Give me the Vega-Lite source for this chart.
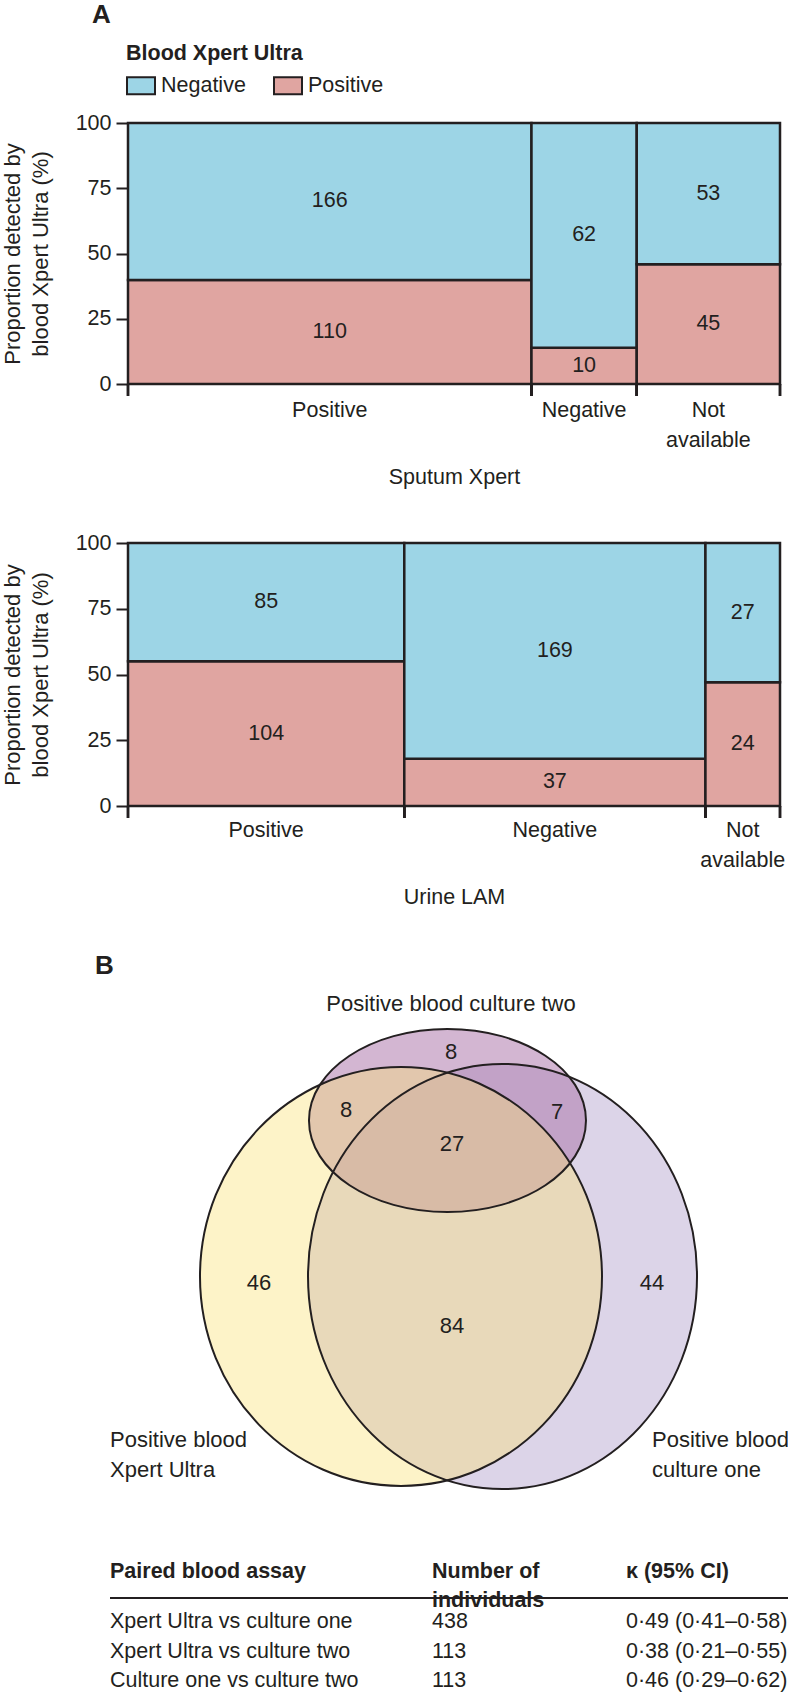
{
  "$schema": "https://vega.github.io/schema/vega-lite/v6.json",
  "padding": {"left": 0, "top": 2, "right": 0, "bottom": 0},
  "background": "white",
  "config": {
    "font": "Liberation Sans",
    "view": {"stroke": null},
    "text": {"color": "#231f20"}
  },
  "datasets": {
    "sputum": [
      {"cat": "Positive", "catOrder": 1, "blood": "Positive", "bloodOrder": 1, "n": 110},
      {"cat": "Positive", "catOrder": 1, "blood": "Negative", "bloodOrder": 2, "n": 166},
      {"cat": "Negative", "catOrder": 2, "blood": "Positive", "bloodOrder": 1, "n": 10},
      {"cat": "Negative", "catOrder": 2, "blood": "Negative", "bloodOrder": 2, "n": 62},
      {"cat": "Not available", "catOrder": 3, "blood": "Positive", "bloodOrder": 1, "n": 45},
      {"cat": "Not available", "catOrder": 3, "blood": "Negative", "bloodOrder": 2, "n": 53}
    ],
    "lam": [
      {"cat": "Positive", "catOrder": 1, "blood": "Positive", "bloodOrder": 1, "n": 104},
      {"cat": "Positive", "catOrder": 1, "blood": "Negative", "bloodOrder": 2, "n": 85},
      {"cat": "Negative", "catOrder": 2, "blood": "Positive", "bloodOrder": 1, "n": 37},
      {"cat": "Negative", "catOrder": 2, "blood": "Negative", "bloodOrder": 2, "n": 169},
      {"cat": "Not available", "catOrder": 3, "blood": "Positive", "bloodOrder": 1, "n": 24},
      {"cat": "Not available", "catOrder": 3, "blood": "Negative", "bloodOrder": 2, "n": 27}
    ],
    "venn": [
      {"set": "Xpert Ultra", "x": 41.87, "y": 43.07},
      {"set": "Culture one", "x": 57.44, "y": 43.07},
      {"set": "Culture two", "x": 49.0, "y": 73.96}
    ],
    "vennCounts": [
      {"n": 8, "x": 49.54, "y": 87.52},
      {"n": 8, "x": 33.44, "y": 76.04},
      {"n": 7, "x": 65.8, "y": 75.64},
      {"n": 27, "x": 49.69, "y": 69.31},
      {"n": 46, "x": 20.09, "y": 41.78},
      {"n": 44, "x": 80.37, "y": 41.78},
      {"n": 84, "x": 49.69, "y": 33.27}
    ],
    "vennTop": [
      {"label": "Positive blood culture two", "x": 49.54, "y": 97.03}
    ],
    "vennSide": [
      {"label": "Positive blood\nXpert Ultra", "x": -2.76, "y": 9.31},
      {"label": "Positive blood\nculture one", "x": 80.37, "y": 9.31}
    ],
    "tableHead": [
      {"col": 0, "row": 0, "text": "Paired blood assay"},
      {"col": 1, "row": 0, "text": "Number of"},
      {"col": 1, "row": 1, "text": "individuals"},
      {"col": 2, "row": 0, "text": "κ (95% CI)"}
    ],
    "tableBody": [
      {"col": 0, "row": 2, "text": "Xpert Ultra vs culture one"},
      {"col": 1, "row": 2, "text": "438"},
      {"col": 2, "row": 2, "text": "0·49 (0·41–0·58)"},
      {"col": 0, "row": 3, "text": "Xpert Ultra vs culture two"},
      {"col": 1, "row": 3, "text": "113"},
      {"col": 2, "row": 3, "text": "0·38 (0·21–0·55)"},
      {"col": 0, "row": 4, "text": "Culture one vs culture two"},
      {"col": 1, "row": 4, "text": "113"},
      {"col": 2, "row": 4, "text": "0·46 (0·29–0·62)"}
    ]
  },
  "bounds": "flush",
  "spacing": 159,
  "resolve": {"scale": {"color": "independent"}, "legend": {"color": "independent"}},
  "vconcat": [
    {
      "width": 652,
      "height": 261,
      "title": {"text": "A", "anchor": "start", "frame": "group", "dx": -36, "fontSize": 26, "fontWeight": "bold", "offset": -6, "baseline": "alphabetic", "color": "#231f20"},
      "data": {"name": "sputum"},
      "transform": [
        {"joinaggregate": [{"op": "sum", "field": "n", "as": "catTotal"}], "groupby": ["cat"]},
        {"joinaggregate": [{"op": "sum", "field": "n", "as": "grand"}]},
        {"stack": "n", "groupby": ["cat"], "sort": [{"field": "bloodOrder", "order": "ascending"}], "offset": "normalize", "as": ["s0", "s1"]},
        {"window": [{"op": "sum", "field": "n", "as": "cumEnd"}], "sort": [{"field": "catOrder", "order": "ascending"}], "frame": [null, 0], "ignorePeers": false},
        {"calculate": "datum.cumEnd / datum.grand", "as": "x1"},
        {"calculate": "(datum.cumEnd - datum.catTotal) / datum.grand", "as": "x0"},
        {"calculate": "(datum.x0 + datum.x1) / 2", "as": "xm"},
        {"calculate": "(datum.s0 + datum.s1) / 2", "as": "ym"}
      ],
      "layer": [
        {
          "mark": {"type": "rect", "stroke": "#231f20", "strokeWidth": 2.5, "opacity": 1},
          "encoding": {
            "x": {"field": "x0", "type": "quantitative", "scale": {"domain": [0, 1], "nice": false, "zero": false},
              "axis": {"title": "Sputum Xpert", "labels": false, "ticks": false, "domain": false, "grid": false, "titleY": 99, "titleBaseline": "alphabetic", "titleFontSize": 21.5, "titleFontWeight": "normal", "titleColor": "#231f20"}},
            "x2": {"field": "x1"},
            "y": {"field": "s0", "type": "quantitative", "scale": {"domain": [0, 1], "nice": false, "zero": false},
              "axis": {"title": ["Proportion detected by", "blood Xpert Ultra (%)"], "values": [0, 0.25, 0.5, 0.75, 1], "labelExpr": "round(datum.value * 100)", "tickSize": 12, "tickWidth": 2, "tickColor": "#231f20", "domain": true, "domainColor": "#231f20", "domainWidth": 2.5, "labelFontSize": 21.5, "labelColor": "#231f20", "labelPadding": 5, "grid": false, "titleFontSize": 22, "titleFontWeight": "normal", "titleColor": "#231f20", "titleX": -104, "titleBaseline": "bottom", "titleLineHeight": 28}},
            "y2": {"field": "s1"},
            "color": {"field": "blood", "type": "nominal", "scale": {"domain": ["Negative", "Positive"], "range": ["#9dd5e6", "#e0a5a1"]},
              "legend": {"orient": "none", "legendX": -2, "legendY": -80, "direction": "horizontal", "title": "Blood Xpert Ultra", "titleFontSize": 21.5, "titleFontWeight": "bold", "titleColor": "#231f20", "titleAnchor": "start", "titlePadding": 6, "labelFontSize": 21.5, "labelColor": "#231f20", "labelOffset": 5, "columnPadding": 24, "symbolType": "M-1,-0.607H1V0.607H-1Z", "symbolSize": 784, "symbolStrokeColor": "#231f20", "symbolStrokeWidth": 2, "symbolOpacity": 1, "padding": 0}}
          }
        },
        {
          "mark": {"type": "text", "fontSize": 21.5, "baseline": "middle", "color": "#231f20"},
          "encoding": {
            "x": {"field": "xm", "type": "quantitative"},
            "y": {"field": "ym", "type": "quantitative"},
            "text": {"field": "n"}
          }
        },
        {
          "mark": {"type": "rule", "stroke": "#231f20", "strokeWidth": 2.5, "y2Offset": 12},
          "encoding": {"x": {"field": "x0", "type": "quantitative"}, "y": {"datum": 0}, "y2": {"datum": 0}}
        },
        {
          "mark": {"type": "rule", "stroke": "#231f20", "strokeWidth": 2.5, "y2Offset": 12},
          "encoding": {"x": {"field": "x1", "type": "quantitative"}, "y": {"datum": 0}, "y2": {"datum": 0}}
        },
        {
          "transform": [{"filter": "datum.bloodOrder == 1"}],
          "mark": {"type": "text", "fontSize": 21.5, "baseline": "alphabetic", "dy": 33, "lineBreak": " ", "lineHeight": 30, "color": "#231f20"},
          "encoding": {"x": {"field": "xm", "type": "quantitative"}, "y": {"datum": 0}, "text": {"field": "cat"}}
        }
      ]
    },
    {
      "width": 652,
      "height": 263,
      "data": {"name": "lam"},
      "transform": [
        {"joinaggregate": [{"op": "sum", "field": "n", "as": "catTotal"}], "groupby": ["cat"]},
        {"joinaggregate": [{"op": "sum", "field": "n", "as": "grand"}]},
        {"stack": "n", "groupby": ["cat"], "sort": [{"field": "bloodOrder", "order": "ascending"}], "offset": "normalize", "as": ["s0", "s1"]},
        {"window": [{"op": "sum", "field": "n", "as": "cumEnd"}], "sort": [{"field": "catOrder", "order": "ascending"}], "frame": [null, 0], "ignorePeers": false},
        {"calculate": "datum.cumEnd / datum.grand", "as": "x1"},
        {"calculate": "(datum.cumEnd - datum.catTotal) / datum.grand", "as": "x0"},
        {"calculate": "(datum.x0 + datum.x1) / 2", "as": "xm"},
        {"calculate": "(datum.s0 + datum.s1) / 2", "as": "ym"}
      ],
      "layer": [
        {
          "mark": {"type": "rect", "stroke": "#231f20", "strokeWidth": 2.5, "opacity": 1},
          "encoding": {
            "x": {"field": "x0", "type": "quantitative", "scale": {"domain": [0, 1], "nice": false, "zero": false},
              "axis": {"title": "Urine LAM", "labels": false, "ticks": false, "domain": false, "grid": false, "titleY": 97, "titleBaseline": "alphabetic", "titleFontSize": 21.5, "titleFontWeight": "normal", "titleColor": "#231f20"}},
            "x2": {"field": "x1"},
            "y": {"field": "s0", "type": "quantitative", "scale": {"domain": [0, 1], "nice": false, "zero": false},
              "axis": {"title": ["Proportion detected by", "blood Xpert Ultra (%)"], "values": [0, 0.25, 0.5, 0.75, 1], "labelExpr": "round(datum.value * 100)", "tickSize": 12, "tickWidth": 2, "tickColor": "#231f20", "domain": true, "domainColor": "#231f20", "domainWidth": 2.5, "labelFontSize": 21.5, "labelColor": "#231f20", "labelPadding": 5, "grid": false, "titleFontSize": 22, "titleFontWeight": "normal", "titleColor": "#231f20", "titleX": -104, "titleBaseline": "bottom", "titleLineHeight": 28}},
            "y2": {"field": "s1"},
            "color": {"field": "blood", "type": "nominal", "scale": {"domain": ["Negative", "Positive"], "range": ["#9dd5e6", "#e0a5a1"]}, "legend": null}
          }
        },
        {
          "mark": {"type": "text", "fontSize": 21.5, "baseline": "middle", "color": "#231f20"},
          "encoding": {
            "x": {"field": "xm", "type": "quantitative"},
            "y": {"field": "ym", "type": "quantitative"},
            "text": {"field": "n"}
          }
        },
        {
          "mark": {"type": "rule", "stroke": "#231f20", "strokeWidth": 2.5, "y2Offset": 12},
          "encoding": {"x": {"field": "x0", "type": "quantitative"}, "y": {"datum": 0}, "y2": {"datum": 0}}
        },
        {
          "mark": {"type": "rule", "stroke": "#231f20", "strokeWidth": 2.5, "y2Offset": 12},
          "encoding": {"x": {"field": "x1", "type": "quantitative"}, "y": {"datum": 0}, "y2": {"datum": 0}}
        },
        {
          "transform": [{"filter": "datum.bloodOrder == 1"}],
          "mark": {"type": "text", "fontSize": 21.5, "baseline": "alphabetic", "dy": 31, "lineBreak": " ", "lineHeight": 30, "color": "#231f20"},
          "encoding": {"x": {"field": "xm", "type": "quantitative"}, "y": {"datum": 0}, "text": {"field": "cat"}}
        }
      ]
    },
    {
      "width": 652,
      "height": 400,
      "title": {"text": "B", "anchor": "start", "frame": "group", "dx": -33, "fontSize": 26, "fontWeight": "bold", "offset": -35, "baseline": "alphabetic", "color": "#231f20"},
      "layer": [
        {
          "data": {"name": "venn"},
          "transform": [{"filter": "datum.set == 'Culture one'"}],
          "mark": {"type": "point", "shape": "M1,0C1,0.6037 0.5523,1.093 0,1.093C-0.5523,1.093 -1,0.6037 -1,0C-1,-0.6037 -0.5523,-1.093 0,-1.093C0.5523,-1.093 1,-0.6037 1,0Z", "size": 151321, "filled": true, "fill": "#dcd4e8", "opacity": 1, "strokeWidth": 0},
          "encoding": {
            "x": {"field": "x", "type": "quantitative", "scale": {"domain": [0, 100], "nice": false, "zero": false}, "axis": null},
            "y": {"field": "y", "type": "quantitative", "scale": {"domain": [0, 100], "range": [529, 24], "nice": false, "zero": false}, "axis": null}
          }
        },
        {
          "data": {"name": "venn"},
          "transform": [{"filter": "datum.set == 'Culture two'"}],
          "mark": {"type": "point", "shape": "M1,0C1,0.3651 0.5523,0.661 0,0.661C-0.5523,0.661 -1,0.3651 -1,0C-1,-0.3651 -0.5523,-0.661 0,-0.661C0.5523,-0.661 1,-0.3651 1,0Z", "size": 76729, "filled": true, "fill": "#ac75aa", "opacity": 0.53, "strokeWidth": 0},
          "encoding": {"x": {"field": "x", "type": "quantitative"}, "y": {"field": "y", "type": "quantitative"}}
        },
        {
          "data": {"name": "venn"},
          "transform": [{"filter": "datum.set == 'Xpert Ultra'"}],
          "mark": {"type": "point", "shape": "M1,0C1,0.5755 0.5523,1.042 0,1.042C-0.5523,1.042 -1,0.5755 -1,0C-1,-0.5755 -0.5523,-1.042 0,-1.042C0.5523,-1.042 1,-0.5755 1,0Z", "size": 161604, "filled": true, "fill": "#fae176", "opacity": 0.4, "strokeWidth": 0},
          "encoding": {"x": {"field": "x", "type": "quantitative"}, "y": {"field": "y", "type": "quantitative"}}
        },
        {
          "data": {"name": "venn"},
          "transform": [{"filter": "datum.set == 'Culture one'"}],
          "mark": {"type": "point", "shape": "M1,0C1,0.6037 0.5523,1.093 0,1.093C-0.5523,1.093 -1,0.6037 -1,0C-1,-0.6037 -0.5523,-1.093 0,-1.093C0.5523,-1.093 1,-0.6037 1,0Z", "size": 151321, "filled": false, "color": "#231f20", "opacity": 1, "strokeWidth": 2},
          "encoding": {"x": {"field": "x", "type": "quantitative"}, "y": {"field": "y", "type": "quantitative"}}
        },
        {
          "data": {"name": "venn"},
          "transform": [{"filter": "datum.set == 'Culture two'"}],
          "mark": {"type": "point", "shape": "M1,0C1,0.3651 0.5523,0.661 0,0.661C-0.5523,0.661 -1,0.3651 -1,0C-1,-0.3651 -0.5523,-0.661 0,-0.661C0.5523,-0.661 1,-0.3651 1,0Z", "size": 76729, "filled": false, "color": "#231f20", "opacity": 1, "strokeWidth": 2},
          "encoding": {"x": {"field": "x", "type": "quantitative"}, "y": {"field": "y", "type": "quantitative"}}
        },
        {
          "data": {"name": "venn"},
          "transform": [{"filter": "datum.set == 'Xpert Ultra'"}],
          "mark": {"type": "point", "shape": "M1,0C1,0.5755 0.5523,1.042 0,1.042C-0.5523,1.042 -1,0.5755 -1,0C-1,-0.5755 -0.5523,-1.042 0,-1.042C0.5523,-1.042 1,-0.5755 1,0Z", "size": 161604, "filled": false, "color": "#231f20", "opacity": 1, "strokeWidth": 2},
          "encoding": {"x": {"field": "x", "type": "quantitative"}, "y": {"field": "y", "type": "quantitative"}}
        },
        {
          "data": {"name": "vennCounts"},
          "mark": {"type": "text", "fontSize": 22, "baseline": "middle", "align": "center", "color": "#231f20"},
          "encoding": {"x": {"field": "x", "type": "quantitative"}, "y": {"field": "y", "type": "quantitative"}, "text": {"field": "n"}}
        },
        {
          "data": {"name": "vennTop"},
          "mark": {"type": "text", "fontSize": 22, "baseline": "middle", "align": "center", "color": "#231f20"},
          "encoding": {"x": {"field": "x", "type": "quantitative"}, "y": {"field": "y", "type": "quantitative"}, "text": {"field": "label"}}
        },
        {
          "data": {"name": "vennSide"},
          "mark": {"type": "text", "fontSize": 22, "baseline": "alphabetic", "align": "left", "lineBreak": "\n", "lineHeight": 30, "color": "#231f20"},
          "encoding": {"x": {"field": "x", "type": "quantitative"}, "y": {"field": "y", "type": "quantitative"}, "text": {"field": "label"}}
        }
      ]
    },
    {
      "width": 652,
      "height": 168,
      "layer": [
        {
          "data": {"name": "tableHead"},
          "mark": {"type": "text", "align": "left", "baseline": "alphabetic", "fontSize": 21.5, "fontWeight": "bold", "dy": 30, "color": "#231f20"},
          "encoding": {
            "x": {"field": "col", "type": "quantitative", "scale": {"domain": [0, 1, 2, 3], "range": [-18, 304, 498, 660], "nice": false, "zero": false}, "axis": null},
            "y": {"field": "row", "type": "quantitative", "scale": {"domain": [0, 1, 2, 4], "range": [24, 53, 104, 163], "nice": false, "zero": false}, "axis": null},
            "text": {"field": "text"}
          }
        },
        {
          "data": {"name": "tableBody"},
          "mark": {"type": "text", "align": "left", "baseline": "alphabetic", "fontSize": 21.5, "color": "#231f20"},
          "encoding": {
            "x": {"field": "col", "type": "quantitative"},
            "y": {"field": "row", "type": "quantitative"},
            "text": {"field": "text"}
          }
        },
        {
          "data": {"values": [{"line": "header rule"}]},
          "mark": {"type": "rule", "stroke": "#231f20", "strokeWidth": 2, "yOffset": -30},
          "encoding": {"x": {"datum": 0}, "x2": {"datum": 3}, "y": {"datum": 2}}
        }
      ]
    }
  ]
}
